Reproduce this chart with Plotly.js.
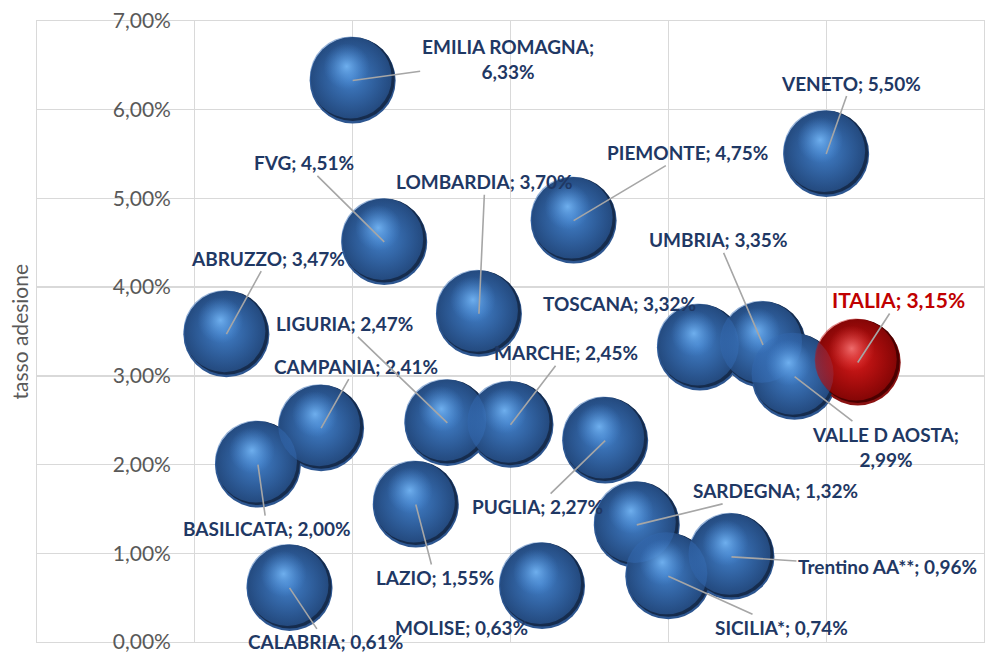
<!DOCTYPE html>
<html><head><meta charset="utf-8">
<script src="https://cdn.plot.ly/plotly-3.0.1.min.js"></script>
<style>html,body{margin:0;padding:0;background:#fff}#chart{width:1005px;height:654px}</style>
</head><body><div id="chart"></div>
<script>
// ---- data ----
const regions = ['ABRUZZO','BASILICATA','CALABRIA','CAMPANIA','EMILIA ROMAGNA','FVG','LAZIO','LIGURIA','LOMBARDIA','MARCHE','MOLISE','PIEMONTE','PUGLIA','SARDEGNA','SICILIA*','TOSCANA','Trentino AA**','UMBRIA','VALLE D AOSTA','VENETO','ITALIA'];
const xIndex = [6,7,8,9,10,11,12,13,14,15,16,17,18,19,20,21,22,23,24,25,26];
const rates = [0.0347,0.0200,0.0061,0.0241,0.0633,0.0451,0.0155,0.0247,0.0370,0.0245,0.0063,0.0475,0.0227,0.0132,0.0074,0.0332,0.0096,0.0335,0.0299,0.0550,0.0315];
const yTickVals = [0,0.01,0.02,0.03,0.04,0.05,0.06,0.07];
const yTitle = 'tasso adesione';

// ---- label placement (pixel offsets from bubble centre) ----
const labelPos = {
  'ABRUZZO':[42,-76], 'BASILICATA':[9,64], 'CALABRIA':[36,54], 'CAMPANIA':[35,-62],
  'EMILIA ROMAGNA':[155,-21,true], 'FVG':[-80,-79], 'LAZIO':[19,73], 'LIGURIA':[-103,-99],
  'LOMBARDIA':[6,-132], 'MARCHE':[55,-72], 'MOLISE':[-81,41,false,true], 'PIEMONTE':[114,-68],
  'PUGLIA':[-68,66], 'SARDEGNA':[139,-34], 'SICILIA*':[113,51], 'TOSCANA':[-80,-44,false,true],
  'Trentino AA**':[156,10], 'UMBRIA':[-45,-105], 'VALLE D AOSTA':[91,70,true], 'VENETO':[25,-71],
  'ITALIA':[41,-63]
};

const W = 1005, H = 654, M = {l:37, r:21, t:21, b:12};
const pw = W - M.l - M.r, ph = H - M.t - M.b;
const xR = [0,30], yR = [0,0.07];
const pxX = pw/(xR[1]-xR[0]), pxY = ph/(yR[1]-yR[0]);
function shiftX(dx){ return [xR[0]-dx/pxX, xR[1]-dx/pxX]; }
function shiftY(dy){ return [yR[0]+dy/pxY, yR[1]+dy/pxY]; }

const isIt = regions.map(r => r === 'ITALIA');
const fmt = v => (v*100).toFixed(2).replace('.', ',') + '%';

function layer(ax, size, edge, centre){
  const t = {type:'scatter', mode:'markers', x:xIndex, y:rates, hoverinfo:'skip', cliponaxis:false,
    marker:{size:size, line:{width:0}, color:edge, gradient:{type:'radial', color:centre}}};
  if (ax) { t.xaxis = 'x'+ax; t.yaxis = 'y'+ax; }
  return t;
}
// rim (soft bottom reflection)
const rim = layer(null, 86, isIt.map(b => b ? '#8a1212' : '#2d5690'), isIt.map(b => b ? '#8a1212' : '#2d5690'));
// dark shadow body
const dark = layer(2, 84, isIt.map(b => b ? '#4a0000' : '#152b4c'), isIt.map(b => b ? '#6a0000' : '#1f3d68'));
// lit body
const body = layer(3, 82, isIt.map(b => b ? 'rgba(190,12,12,0.5)' : 'rgba(50,104,176,0.5)'),
                          isIt.map(b => b ? '#d41c1c' : '#4280c8'));
// specular shine
const shine = layer(4, 46, isIt.map(b => b ? 'rgba(225,60,60,0)' : 'rgba(75,140,215,0)'),
                           isIt.map(b => b ? 'rgba(250,130,130,0.8)' : 'rgba(120,186,248,0.85)'));

const annotations = regions.map((r,i) => {
  const p = labelPos[r];
  const txt = r + ';' + (p[2] ? '<br>' : ' ') + fmt(rates[i]);
  return {
    x: xIndex[i], y: rates[i], xref:'x', yref:'y', text: txt,
    showarrow:true, ax:p[0], ay:p[1], arrowhead:0, arrowwidth:1.6, standoff:0, startstandoff:0,
    arrowcolor: p[3] ? 'rgba(0,0,0,0)' : '#a6a6a6',
    font:{family:'Lato, sans-serif', size: isIt[i] ? 21 : 19, weight:700, color: isIt[i] ? '#c00000' : '#1f3864'},
    align:'center'
  };
});
annotations.push({
  xref:'paper', yref:'paper', x:0, y:0.5, xshift:-18, text:yTitle, textangle:-90, showarrow:false,
  xanchor:'center', yanchor:'middle', font:{family:'Lato, sans-serif', size:21, color:'#595959'}
});

const grid = '#d9d9d9';
const layout = {
  width:W, height:H, margin:M, paper_bgcolor:'#fff', plot_bgcolor:'#fff',
  separators:',.', showlegend:false, annotations,
  font:{family:'Lato, sans-serif'},
  xaxis:{range:xR, dtick:5, tick0:0, showticklabels:false, ticks:'', showgrid:true, gridcolor:grid, gridwidth:1.3,
    zeroline:false, showline:true, mirror:true, linecolor:grid, linewidth:1.3, fixedrange:true},
  yaxis:{range:yR, tickvals:yTickVals, tickformat:'.2%', ticks:'', showgrid:true, gridcolor:grid, gridwidth:1.3,
    zeroline:false, showline:true, mirror:true, linecolor:grid, linewidth:1.3,
    ticklabelposition:'inside', ticklabelstandoff:77, ticklabeloverflow:'allow',
    tickfont:{family:'Lato, sans-serif', size:21, color:'#595959'}, fixedrange:true},
  xaxis2:{overlaying:'x', anchor:'y2', range:shiftX(0), visible:false, fixedrange:true},
  yaxis2:{overlaying:'y', anchor:'x2', range:shiftY(-1.5), visible:false, fixedrange:true},
  xaxis3:{overlaying:'x', anchor:'y3', range:shiftX(-2), visible:false, fixedrange:true},
  yaxis3:{overlaying:'y', anchor:'x3', range:shiftY(-3), visible:false, fixedrange:true},
  xaxis4:{overlaying:'x', anchor:'y4', range:shiftX(-6), visible:false, fixedrange:true},
  yaxis4:{overlaying:'y', anchor:'x4', range:shiftY(-14), visible:false, fixedrange:true}
};

Plotly.newPlot('chart', [rim, dark, body, shine], layout, {staticPlot:true, displayModeBar:false});
</script>
</body></html>
